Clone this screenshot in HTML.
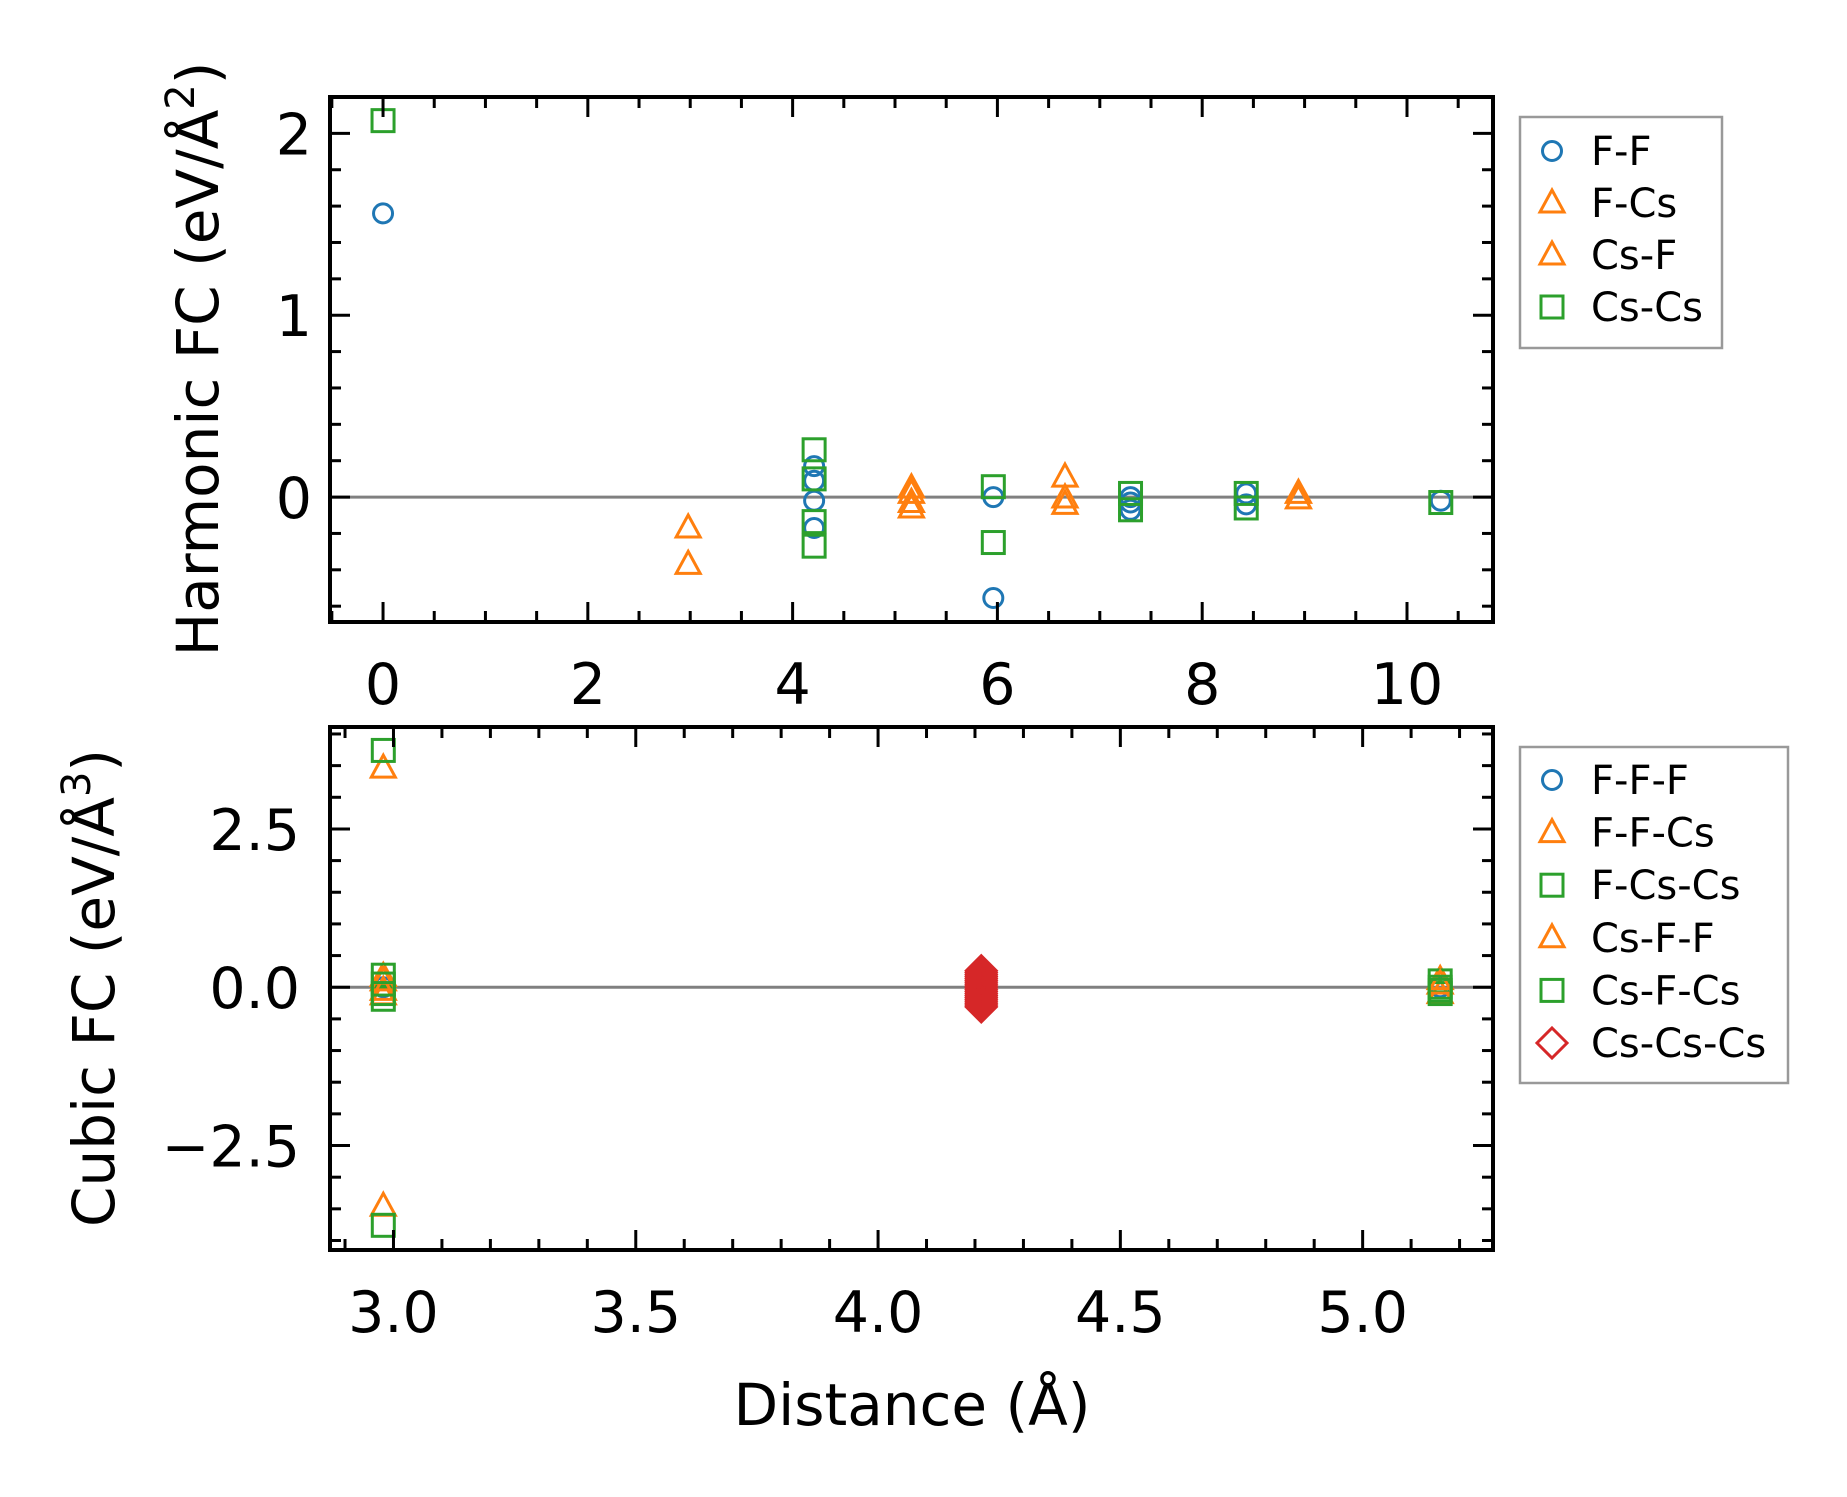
<!DOCTYPE html>
<html><head><meta charset="utf-8"><style>
html,body{margin:0;padding:0;background:#fff}
svg{display:block;font-family:"DejaVu Sans","Liberation Sans",sans-serif}
</style></head><body>
<svg id="chart" width="1847" height="1497" viewBox="0 0 1847 1497" xmlns="http://www.w3.org/2000/svg">
<rect width="1847" height="1497" fill="#fff"/>
<g id="top"></g>
<g id="bot"></g>
<text transform="translate(218,359) rotate(-90)" text-anchor="middle" font-size="58">Harmonic FC (eV/Å<tspan font-size="40" dy="-24">2</tspan><tspan dy="24">)</tspan></text>
<text transform="translate(114,988) rotate(-90)" text-anchor="middle" font-size="58">Cubic FC (eV/Å<tspan font-size="40" dy="-24">3</tspan><tspan dy="24">)</tspan></text>
<text x="912" y="1425" text-anchor="middle" font-size="58">Distance (Å)</text>
</svg>
<script>
// ---- Harmonic panel data ----
const ffX   = [0, 4.21, 4.21, 4.21, 4.21, 5.96, 5.96, 7.30, 7.30, 7.30, 8.43, 8.43, 10.33];
const ffY   = [1.56, 0.17, 0.09, -0.02, -0.17, 0.0, -0.555, 0.0, -0.03, -0.07, 0.02, -0.04, -0.02];
const fcsX  = [2.98, 2.98, 5.16, 5.16, 6.66, 6.66, 8.94];
const fcsY  = [-0.17, -0.37, 0.05, -0.03, 0.11, -0.005, 0.02];
const csfX  = [5.16, 5.16, 6.66, 8.94];
const csfY  = [0.02, -0.06, -0.04, -0.01];
const cscsX = [0, 4.21, 4.21, 4.21, 4.21, 5.96, 5.96, 7.30, 7.30, 8.43, 8.43, 10.33];
const cscsY = [2.07, 0.26, 0.10, -0.135, -0.27, 0.057, -0.25, 0.02, -0.07, 0.02, -0.06, -0.03];
const topXTicks = [0, 2, 4, 6, 8, 10];
const topXLabels = ["0", "2", "4", "6", "8", "10"];
const topYTicks = [0, 1, 2];
const topYLabels = ["0", "1", "2"];
// ---- Cubic panel data ----
const fffX   = [2.979, 5.16];
const fffY   = [0.0, 0.0];
const ffcsX  = [2.979, 2.979, 2.979, 2.979, 5.16, 5.16];
const ffcsY  = [3.46, -3.46, 0.17, -0.12, 0.12, -0.1];
const fcscsX = [2.979, 2.979, 2.979, 2.979, 5.16, 5.16];
const fcscsY = [3.74, -3.76, 0.19, -0.19, 0.1, -0.1];
const csffX  = [2.979, 2.979, 5.16];
const csffY  = [0.1, -0.05, 0.05];
const csfcsX = [2.979, 2.979, 5.16, 5.16];
const csfcsY = [0.05, -0.1, 0.0, -0.05];
const cscscsX = [4.213, 4.213, 4.213, 4.213, 4.213, 4.213, 4.213, 4.213, 4.213, 4.213, 4.213, 4.213, 4.213, 4.213, 4.213, 4.213, 4.213, 4.213, 4.213, 4.213];
const cscscsY = [0.26, 0.23, 0.2, 0.17, 0.14, 0.11, 0.08, 0.05, 0.02, -0.01, -0.04, -0.07, -0.1, -0.13, -0.16, -0.19, -0.22, -0.25, -0.28, -0.31];
const botXTicks = [3.0, 3.5, 4.0, 4.5, 5.0];
const botXLabels = ["3.0", "3.5", "4.0", "4.5", "5.0"];
const botYTicks = [-2.5, 0, 2.5];
const botYLabels = ["\u22122.5", "0.0", "2.5"];

const NS = "http://www.w3.org/2000/svg";
const C = {blue:"#1f77b4", orange:"#ff7f0e", green:"#2ca02c", red:"#d62728"};
function mk(tag, attrs, parent){const e=document.createElementNS(NS,tag);for(const k in attrs)e.setAttribute(k,attrs[k]);parent.appendChild(e);return e;}

function marker(parent, kind, cx, cy, col){
  let e;
  if(kind==="o") e=mk("circle",{cx:cx,cy:cy,r:9.5,fill:"none",stroke:col,"stroke-width":3},parent);
  else if(kind==="s") e=mk("rect",{x:cx-11,y:cy-11,width:22,height:22,fill:"none",stroke:col,"stroke-width":3},parent);
  else if(kind==="^") e=mk("polygon",{points:`${cx},${cy-13} ${cx+12},${cy+9} ${cx-12},${cy+9}`,fill:"none",stroke:col,"stroke-width":3},parent);
  else e=mk("polygon",{points:`${cx},${cy-15} ${cx+15},${cy} ${cx},${cy+15} ${cx-15},${cy}`,fill:"none",stroke:col,"stroke-width":3},parent);
  return e;
}

function panel(g, box, xr, yr, xMaj, xLab, xMin, yMaj, yLab, yMin, series, legend, yPad){
  const sx=v=>box.l+(v-xr[0])/(xr[1]-xr[0])*(box.r-box.l);
  const sy=v=>box.b-(v-yr[0])/(yr[1]-yr[0])*(box.b-box.t);
  const zl=mk("line",{x1:box.l,x2:box.r,y1:sy(0),y2:sy(0),stroke:"#808080","stroke-width":3},g);
  
  
  series.forEach(s=>{
    const sg=mk("g",{},g);
    
    
    s.x.forEach((xv,i)=>{
      const m=marker(sg,s.kind,sx(xv),sy(s.y[i]),s.col);
      
      
    });
  });
  const tg=mk("g",{stroke:"#000","stroke-width":3},g);
  
  
  for(let v=xMin[0]; v<=xr[1]+1e-9; v+=xMin[1]){
    if(v<xr[0]) continue;
    const major=xMaj.some(t=>Math.abs(t-v)<1e-6); const L=major?20:11; const x=sx(v);
    mk("line",{x1:x,x2:x,y1:box.b,y2:box.b-L},tg); mk("line",{x1:x,x2:x,y1:box.t,y2:box.t+L},tg);
  }
  for(let v=yMin[0]; v<=yr[1]+1e-9; v+=yMin[1]){
    if(v<yr[0]) continue;
    const major=yMaj.some(t=>Math.abs(t-v)<1e-6); const L=major?20:11; const y=sy(v);
    mk("line",{x1:box.l,x2:box.l+L,y1:y,y2:y},tg); mk("line",{x1:box.r,x2:box.r-L,y1:y,y2:y},tg);
  }
  xMaj.forEach((v,i)=>{const t=mk("text",{x:sx(v),y:box.b+82,"text-anchor":"middle","font-size":57},g);t.textContent=xLab[i];
    
    });
  yMaj.forEach((v,i)=>{const t=mk("text",{x:box.l-yPad,y:sy(v)+21,"text-anchor":"end","font-size":57},g);t.textContent=yLab[i];
    
    });
  const fr=mk("rect",{x:box.l,y:box.t,width:box.r-box.l,height:box.b-box.t,fill:"none",stroke:"#000","stroke-width":4},g);
  
  
  const lg=mk("g",{},g);
  
  
  mk("rect",{x:legend.l,y:legend.t,width:legend.r-legend.l,height:legend.b-legend.t,fill:"#fff",stroke:"#999","stroke-width":2.5},lg);
  series.forEach((s,i)=>{
    const y=legend.y0+i*legend.dy;
    const m=marker(lg,s.kind,1552,y,s.col);
    
    
    const t=mk("text",{x:1591,y:y+14,"font-size":40},lg); t.textContent=s.label;
    
    
  });
}

panel(document.getElementById("top"), {l:330,r:1493,t:97,b:622}, [-0.518,10.84], [-0.687,2.2],
  topXTicks, topXLabels, [-0.5,0.5], topYTicks, topYLabels, [-0.6,0.2],
  [{name:"f-f",label:"F-F",kind:"o",col:C.blue,x:ffX,y:ffY},
   {name:"f-cs",label:"F-Cs",kind:"^",col:C.orange,x:fcsX,y:fcsY},
   {name:"cs-f",label:"Cs-F",kind:"^",col:C.orange,x:csfX,y:csfY},
   {name:"cs-cs",label:"Cs-Cs",kind:"s",col:C.green,x:cscsX,y:cscsY}],
  {l:1520,r:1722,t:117,b:348,y0:151,dy:52}, 18);

panel(document.getElementById("bot"), {l:330,r:1493,t:727,b:1250}, [2.869,5.269], [-4.15,4.11],
  botXTicks, botXLabels, [2.9,0.1], botYTicks, botYLabels, [-4.0,0.5],
  [{name:"f-f-f",label:"F-F-F",kind:"o",col:C.blue,x:fffX,y:fffY},
   {name:"f-f-cs",label:"F-F-Cs",kind:"^",col:C.orange,x:ffcsX,y:ffcsY},
   {name:"f-cs-cs",label:"F-Cs-Cs",kind:"s",col:C.green,x:fcscsX,y:fcscsY},
   {name:"cs-f-f",label:"Cs-F-F",kind:"^",col:C.orange,x:csffX,y:csffY},
   {name:"cs-f-cs",label:"Cs-F-Cs",kind:"s",col:C.green,x:csfcsX,y:csfcsY},
   {name:"cs-cs-cs",label:"Cs-Cs-Cs",kind:"D",col:C.red,x:cscscsX,y:cscscsY}],
  {l:1520,r:1788,t:747,b:1083,y0:780,dy:52.6}, 30);
</script>
</body></html>
